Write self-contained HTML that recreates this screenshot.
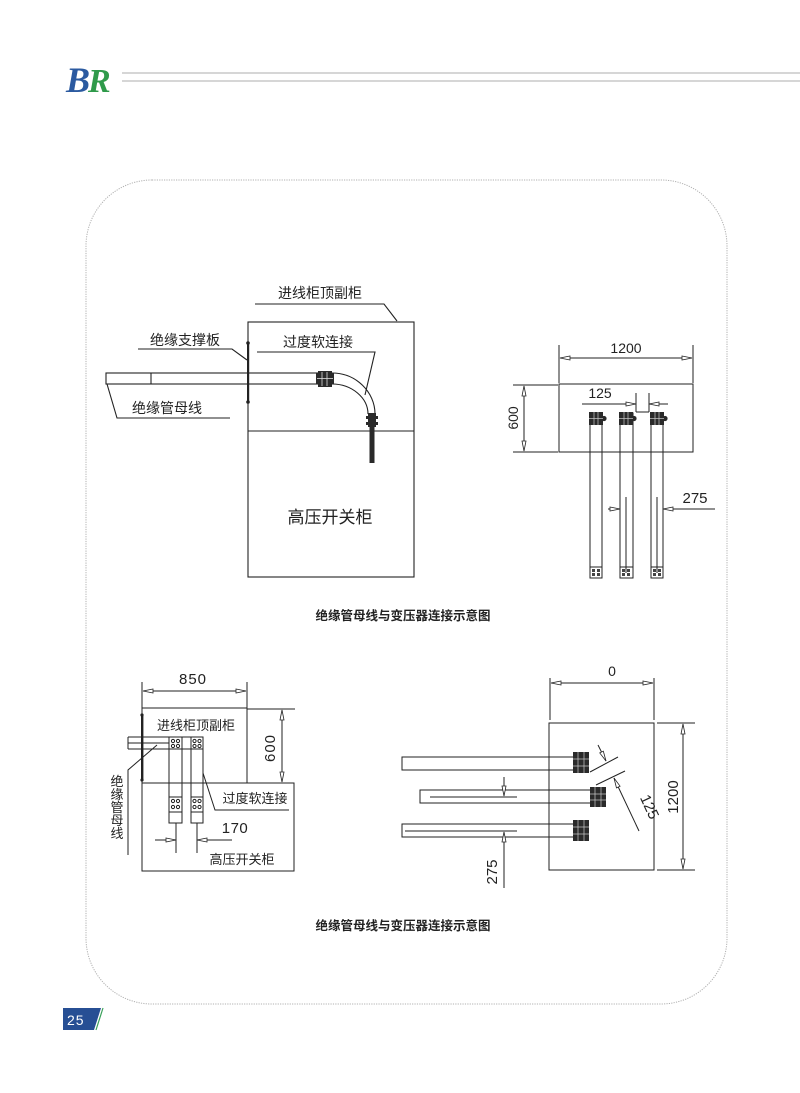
<!DOCTYPE html>
<html><head><meta charset="utf-8">
<style>
html,body{margin:0;padding:0;background:#fff;}
svg{display:block;}
.cn{font-family:"Liberation Sans","Noto Sans CJK SC",sans-serif;fill:#222;}
.dm{font-family:"Liberation Sans",sans-serif;fill:#222;}
</style></head>
<body>
<svg width="800" height="1093" viewBox="0 0 800 1093" xmlns="http://www.w3.org/2000/svg">
<defs>
<marker id="a" viewBox="-1 -1 12 6" refX="10" refY="2" markerWidth="12" markerHeight="6" orient="auto-start-reverse" markerUnits="userSpaceOnUse">
<path d="M0,0 L10,2 L0,4 Z" fill="#fff" stroke="#222" stroke-width="0.8"/>
</marker>
</defs>

<!-- header -->
<text x="66" y="92" font-family="Liberation Serif,serif" font-style="italic" font-weight="bold" font-size="36" fill="#2b5aa0">B</text>
<text x="88" y="92" font-family="Liberation Serif,serif" font-style="italic" font-weight="bold" font-size="34" fill="#2f9a4a">R</text>
<line x1="122" y1="73" x2="800" y2="73" stroke="#c9c9c9" stroke-width="1.5"/>
<line x1="122" y1="81" x2="800" y2="81" stroke="#c9c9c9" stroke-width="1.5"/>

<!-- dotted frame -->
<rect x="86" y="180" width="641" height="824" rx="66" ry="66" fill="none" stroke="#b0b0b0" stroke-width="1" stroke-dasharray="1.2 1.2"/>

<!-- page number -->
<polygon points="63,1008 101,1008 94,1030 63,1030" fill="#274f94"/>
<line x1="103" y1="1008" x2="96" y2="1030" stroke="#3aa05a" stroke-width="1.2"/>
<text x="67" y="1025" font-family="Liberation Sans,sans-serif" font-size="14" fill="#fff" letter-spacing="1">25</text>

<g stroke="#222" stroke-width="1.1" fill="none">
<!-- ===== TOP LEFT DIAGRAM ===== -->
<rect x="248" y="322" width="166" height="255"/>
<line x1="248" y1="431" x2="414" y2="431"/>
<!-- leader 进线柜顶副柜 -->
<polyline points="255,304 384,304 397,321"/>
<!-- leader 绝缘支撑板 -->
<polyline points="138,349 232,349 247,360"/>
<!-- leader 过度软连接 -->
<polyline points="257,352 375,352 365,395"/>
<!-- leader 绝缘管母线 -->
<polyline points="107,384 117,418 230,418"/>
<!-- pipe -->
<rect x="106" y="373" width="212" height="11"/>
<line x1="151" y1="373" x2="151" y2="384"/>
<!-- curve -->
<path d="M332,373 C356,373 375,392 375,414"/>
<path d="M332,384 C352,384 368,398 368,414"/>
</g>
<!-- support plate -->
<rect x="247" y="343" width="2.2" height="59" fill="#222"/>
<circle cx="248" cy="343" r="1.8" fill="#222"/>
<circle cx="248" cy="402" r="1.8" fill="#222"/>
<!-- connector on pipe -->
<rect x="318" y="371" width="14" height="16" fill="#2a2a2a"/>
<rect x="316" y="373" width="18" height="11" fill="#2a2a2a"/>
<line x1="322" y1="372" x2="322" y2="386" stroke="#ddd" stroke-width="0.8"/>
<line x1="327" y1="372" x2="327" y2="386" stroke="#ddd" stroke-width="0.8"/>
<line x1="317" y1="378.5" x2="333" y2="378.5" stroke="#ddd" stroke-width="0.8"/>
<!-- vertical connector -->
<rect x="368" y="413" width="8" height="14" fill="#2a2a2a"/>
<rect x="366" y="416" width="12" height="3" fill="#2a2a2a"/>
<rect x="366" y="422" width="12" height="3" fill="#2a2a2a"/>
<rect x="369.5" y="427" width="5" height="36" fill="#2a2a2a"/>

<text class="cn" x="320" y="298" font-size="14" text-anchor="middle">进线柜顶副柜</text>
<text class="cn" x="185" y="345" font-size="14" text-anchor="middle">绝缘支撑板</text>
<text class="cn" x="318" y="347" font-size="14" text-anchor="middle">过度软连接</text>
<text class="cn" x="167" y="413" font-size="14" text-anchor="middle">绝缘管母线</text>
<text class="cn" x="330" y="523" font-size="17" text-anchor="middle">高压开关柜</text>

<!-- ===== TOP RIGHT DIAGRAM ===== -->
<g stroke="#222" stroke-width="1" fill="none">
<rect x="559" y="384" width="134" height="68"/>
<line x1="559" y1="345" x2="559" y2="383"/>
<line x1="693" y1="345" x2="693" y2="383"/>
<line x1="560" y1="358" x2="692" y2="358" marker-start="url(#a)" marker-end="url(#a)"/>
<line x1="513" y1="385" x2="558" y2="385"/>
<line x1="513" y1="452" x2="558" y2="452"/>
<line x1="524" y1="386" x2="524" y2="451" marker-start="url(#a)" marker-end="url(#a)"/>
<!-- 125 -->
<line x1="582" y1="404" x2="636" y2="404" marker-end="url(#a)"/>
<line x1="668" y1="404" x2="649" y2="404" marker-end="url(#a)"/>
<line x1="636" y1="393" x2="636" y2="412"/>
<line x1="649" y1="393" x2="649" y2="412"/>
<line x1="636" y1="412" x2="649" y2="412"/>
<!-- bars -->
<rect x="590" y="413" width="12" height="165"/>
<rect x="620" y="413" width="13" height="165"/>
<rect x="651" y="413" width="12" height="165"/>
<line x1="626" y1="497" x2="626" y2="573"/>
<line x1="657" y1="497" x2="657" y2="573"/>
<!-- 275 -->
<line x1="608" y1="509" x2="620" y2="509" marker-end="url(#a)"/>
<line x1="715" y1="509" x2="663" y2="509" marker-end="url(#a)"/>
<!-- bottom blocks -->
<rect x="590" y="567" width="12" height="11"/>
<rect x="620" y="567" width="13" height="11"/>
<rect x="651" y="567" width="12" height="11"/>
</g>
<g fill="#2a2a2a">
<rect x="589" y="412" width="14" height="13"/><circle cx="604" cy="418.5" r="2.6"/>
<rect x="619" y="412" width="14" height="13"/><circle cx="634" cy="418.5" r="2.6"/>
<rect x="650" y="412" width="14" height="13"/><circle cx="665" cy="418.5" r="2.6"/>
</g>
<g stroke="#ccc" stroke-width="0.7">
<line x1="594" y1="412" x2="594" y2="425"/><line x1="598" y1="412" x2="598" y2="425"/><line x1="589" y1="418.5" x2="603" y2="418.5"/>
<line x1="624" y1="412" x2="624" y2="425"/><line x1="628" y1="412" x2="628" y2="425"/><line x1="619" y1="418.5" x2="633" y2="418.5"/>
<line x1="655" y1="412" x2="655" y2="425"/><line x1="659" y1="412" x2="659" y2="425"/><line x1="650" y1="418.5" x2="664" y2="418.5"/>
</g>
<g fill="#444">
<rect x="592" y="569" width="3" height="3"/><rect x="597" y="569" width="3" height="3"/><rect x="592" y="573" width="3" height="3"/><rect x="597" y="573" width="3" height="3"/>
<rect x="622" y="569" width="3" height="3"/><rect x="627" y="569" width="3" height="3"/><rect x="622" y="573" width="3" height="3"/><rect x="627" y="573" width="3" height="3"/>
<rect x="653" y="569" width="3" height="3"/><rect x="658" y="569" width="3" height="3"/><rect x="653" y="573" width="3" height="3"/><rect x="658" y="573" width="3" height="3"/>
</g>
<text class="dm" x="626" y="353" font-size="14" text-anchor="middle">1200</text>
<text class="dm" x="600" y="398" font-size="14" text-anchor="middle">125</text>
<text class="dm" x="695" y="503" font-size="15" text-anchor="middle">275</text>
<text class="dm" x="0" y="0" font-size="14" text-anchor="middle" transform="translate(518,418) rotate(-90)">600</text>

<text class="cn" x="403" y="620" font-size="12.5" font-weight="bold" fill="#333" text-anchor="middle">绝缘管母线与变压器连接示意图</text>

<!-- ===== BOTTOM LEFT DIAGRAM ===== -->
<g stroke="#222" stroke-width="1" fill="none">
<line x1="142" y1="708" x2="247" y2="708"/>
<line x1="142" y1="708" x2="142" y2="783"/>
<line x1="247" y1="682" x2="247" y2="783"/>
<line x1="142" y1="682" x2="142" y2="708"/>
<line x1="143" y1="691" x2="246" y2="691" marker-start="url(#a)" marker-end="url(#a)"/>
<rect x="142" y="783" width="152" height="88"/>
<line x1="247" y1="709" x2="295" y2="709"/>
<line x1="282" y1="710" x2="282" y2="782" marker-start="url(#a)" marker-end="url(#a)"/>
<!-- pipe & bars -->
<line x1="128" y1="737" x2="203" y2="737"/>
<line x1="128" y1="749" x2="203" y2="749"/>
<line x1="128" y1="737" x2="128" y2="749"/>
<line x1="128" y1="743" x2="169" y2="743"/>
<rect x="169" y="737" width="13" height="86"/>
<rect x="191" y="737" width="12" height="86"/>
<line x1="169" y1="797" x2="182" y2="797"/>
<line x1="169" y1="812" x2="182" y2="812"/>
<line x1="191" y1="797" x2="203" y2="797"/>
<line x1="191" y1="812" x2="203" y2="812"/>
<line x1="176" y1="823" x2="176" y2="853"/>
<line x1="197" y1="823" x2="197" y2="853"/>
<line x1="155" y1="840" x2="176" y2="840" marker-end="url(#a)"/>
<line x1="232" y1="840" x2="197" y2="840" marker-end="url(#a)"/>
<!-- leaders -->
<polyline points="203,773 215,810 289,810"/>
<polyline points="157,745 128,770 128,855"/>
<!-- circles -->
<circle cx="173" cy="741" r="1.6"/><circle cx="178" cy="741" r="1.6"/><circle cx="173" cy="746" r="1.6"/><circle cx="178" cy="746" r="1.6"/>
<circle cx="194.5" cy="741" r="1.6"/><circle cx="199.5" cy="741" r="1.6"/><circle cx="194.5" cy="746" r="1.6"/><circle cx="199.5" cy="746" r="1.6"/>
<circle cx="173" cy="801" r="1.6"/><circle cx="178" cy="801" r="1.6"/><circle cx="173" cy="807" r="1.6"/><circle cx="178" cy="807" r="1.6"/>
<circle cx="194.5" cy="801" r="1.6"/><circle cx="199.5" cy="801" r="1.6"/><circle cx="194.5" cy="807" r="1.6"/><circle cx="199.5" cy="807" r="1.6"/>
</g>
<rect x="141" y="715" width="2.4" height="65" fill="#222"/>
<circle cx="142" cy="715" r="1.6" fill="#222"/>
<circle cx="142" cy="780" r="1.6" fill="#222"/>
<text class="dm" x="193" y="684" font-size="15" letter-spacing="1" text-anchor="middle">850</text>
<text class="dm" x="0" y="0" font-size="15" letter-spacing="1" text-anchor="middle" transform="translate(275,748) rotate(-90)">600</text>
<text class="dm" x="235" y="833" font-size="15" letter-spacing="0.5" text-anchor="middle">170</text>
<text class="cn" x="196" y="730" font-size="13" text-anchor="middle">进线柜顶副柜</text>
<text class="cn" x="255" y="803" font-size="13" text-anchor="middle">过度软连接</text>
<text class="cn" x="242" y="864" font-size="13" text-anchor="middle">高压开关柜</text>
<text class="cn" font-size="13" text-anchor="middle">
<tspan x="117" y="786">绝</tspan><tspan x="117" y="799">缘</tspan><tspan x="117" y="812">管</tspan><tspan x="117" y="825">母</tspan><tspan x="117" y="838">线</tspan>
</text>

<!-- ===== BOTTOM RIGHT DIAGRAM ===== -->
<g stroke="#222" stroke-width="1" fill="none">
<rect x="549" y="723" width="105" height="147"/>
<line x1="550" y1="678" x2="550" y2="720"/>
<line x1="654" y1="678" x2="654" y2="720"/>
<line x1="551" y1="683" x2="653" y2="683" marker-start="url(#a)" marker-end="url(#a)"/>
<line x1="657" y1="723" x2="695" y2="723"/>
<line x1="657" y1="870" x2="695" y2="870"/>
<line x1="683" y1="724" x2="683" y2="869" marker-start="url(#a)" marker-end="url(#a)"/>
<rect x="402" y="757" width="173" height="13"/>
<rect x="420" y="790" width="173" height="13"/>
<line x1="430" y1="797" x2="517" y2="797"/>
<rect x="402" y="824" width="173" height="13"/>
<line x1="405" y1="831" x2="517" y2="831"/>
<!-- 275 -->
<line x1="504" y1="777" x2="504" y2="796" marker-end="url(#a)"/>
<line x1="504" y1="888" x2="504" y2="832" marker-end="url(#a)"/>
<!-- 125 diagonal -->
<line x1="590" y1="772" x2="618" y2="757"/>
<line x1="596" y1="785" x2="625" y2="771"/>
<line x1="598" y1="745" x2="606" y2="761" marker-end="url(#a)"/>
<line x1="639" y1="831" x2="614" y2="778" marker-end="url(#a)"/>
</g>
<g fill="#2a2a2a">
<rect x="573" y="752" width="16" height="21"/>
<rect x="590" y="787" width="16" height="20"/>
<rect x="573" y="820" width="16" height="21"/>
</g>
<g stroke="#ccc" stroke-width="0.7">
<line x1="578" y1="752" x2="578" y2="773"/><line x1="584" y1="752" x2="584" y2="773"/><line x1="573" y1="759" x2="589" y2="759"/><line x1="573" y1="766" x2="589" y2="766"/>
<line x1="595" y1="787" x2="595" y2="807"/><line x1="601" y1="787" x2="601" y2="807"/><line x1="590" y1="794" x2="606" y2="794"/><line x1="590" y1="800" x2="606" y2="800"/>
<line x1="578" y1="820" x2="578" y2="841"/><line x1="584" y1="820" x2="584" y2="841"/><line x1="573" y1="827" x2="589" y2="827"/><line x1="573" y1="834" x2="589" y2="834"/>
</g>
<text class="dm" x="612" y="676" font-size="14" text-anchor="middle">0</text>
<text class="dm" x="0" y="0" font-size="15" text-anchor="middle" transform="translate(678,797) rotate(-90)">1200</text>
<text class="dm" x="0" y="0" font-size="15" text-anchor="middle" transform="translate(497,872) rotate(-90)">275</text>
<text class="dm" x="0" y="0" font-size="15" text-anchor="middle" transform="translate(645,809) rotate(65)">125</text>

<text class="cn" x="403" y="930" font-size="12.5" font-weight="bold" fill="#333" text-anchor="middle">绝缘管母线与变压器连接示意图</text>
</svg>
</body></html>
